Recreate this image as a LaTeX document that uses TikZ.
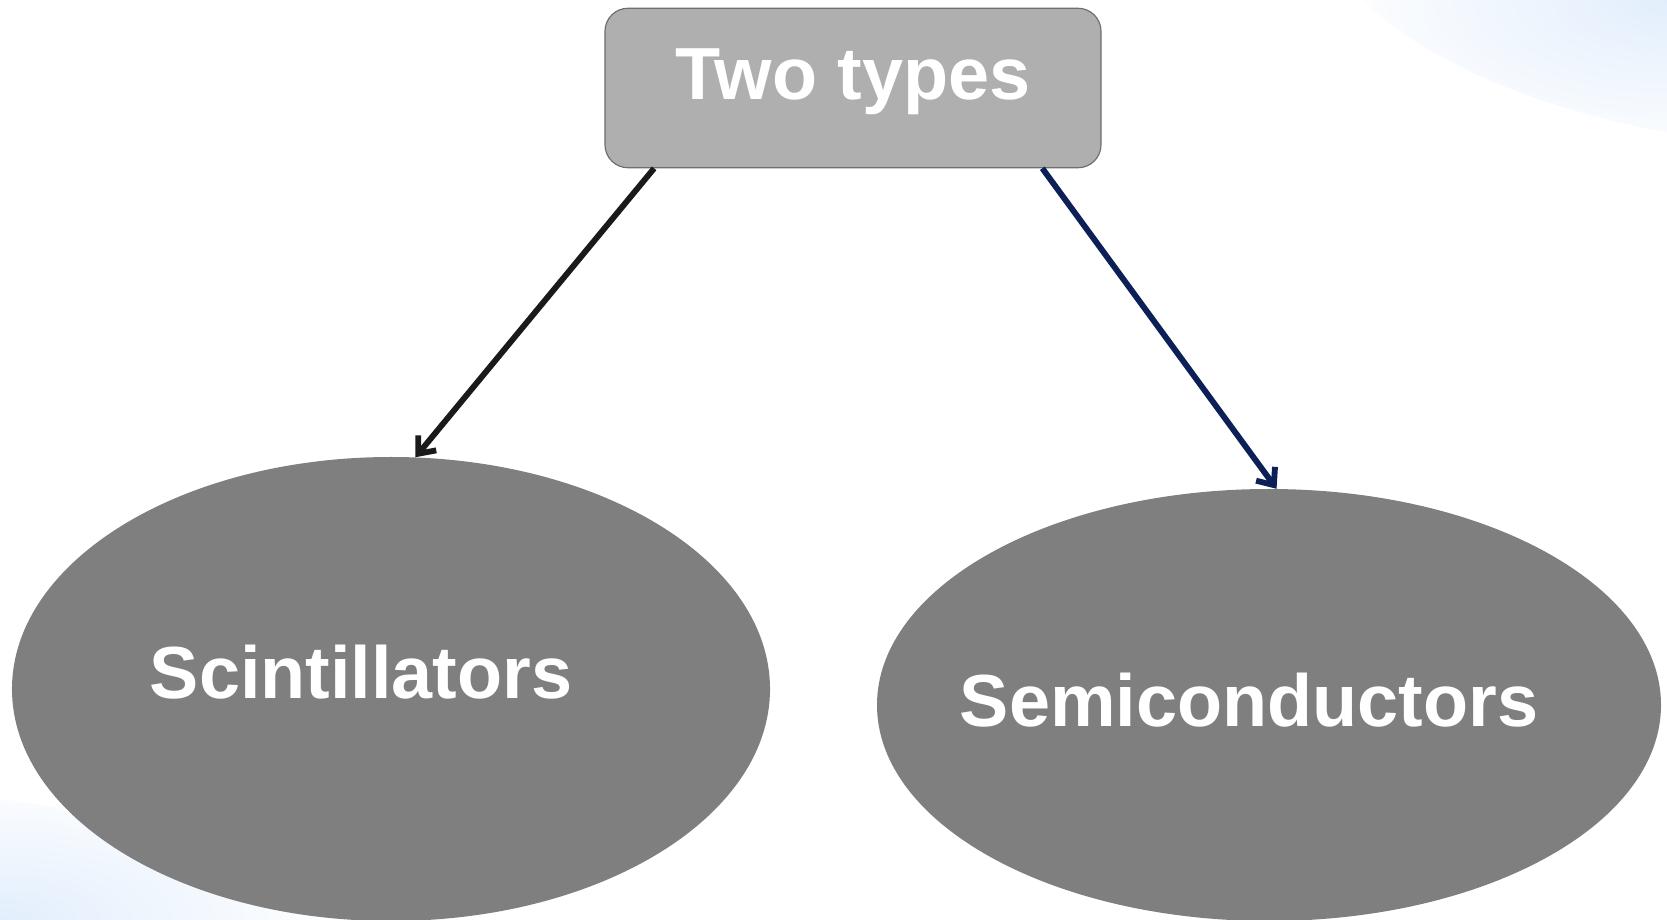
\documentclass[tikz,border=0pt]{standalone}
\usepackage{fontspec}
\setmainfont{Liberation Sans}
\usetikzlibrary{arrows.meta,shapes.geometric}

\definecolor{boxgray}{HTML}{AFAFAF}
\definecolor{boxedge}{HTML}{6E6E6E}
\definecolor{ellgray}{HTML}{7F7F7F}
\definecolor{arrowblack}{HTML}{1A1A1A}
\definecolor{arrownavy}{HTML}{0C1F56}
\definecolor{paleblue}{HTML}{E2EEFC}

\tikzset{
    bigtext/.style={text=white, font=\fontsize{63}{70}\selectfont\bfseries, inner sep=0pt, anchor=base},
    blob/.style={ellipse, fill=ellgray, inner sep=0pt},
    typearrow/.style={line width=5pt, -{Straight Barb[length=12pt, width=20pt]}}
}

\begin{document}
\begin{tikzpicture}[x=0.03cm, y=-0.03cm]
            \useasboundingbox (0,0) rectangle (1667,920);

            % faint background corners
            \begin{scope}
                \clip (0,0) rectangle (1667,920);
                \shade[inner color=paleblue, outer color=white, rotate around={-12:(1667,0)}] (1667,0) ellipse (340 and 130);
                \shade[inner color=paleblue, outer color=white, rotate around={-8:(0,920)}] (0,920) ellipse (340 and 120);
            \end{scope}

            % Draw the box
            \node[draw=boxedge, line width=1pt, fill=boxgray, rounded corners=0.69cm,
                  minimum width=14.88cm, minimum height=4.785cm] (types) at (853,88) {};
            \node[bigtext] (typestext) at (853,99) {Two types};

            % Draw the two ellipses
            \node[blob, minimum width=22.74cm, minimum height=13.92cm] (sci) at (391,689) {};
            \node[bigtext] (scitext) at (361,698) {Scintillators};

            \node[blob, minimum width=23.52cm, minimum height=12.96cm] (semi) at (1269,705) {};
            \node[bigtext] (semitext) at (1249,726) {Semiconductors};

            % Draw the arrows
            \draw[typearrow, draw=arrowblack] (types.202.6) -- (sci.84);
            \draw[typearrow, draw=arrownavy] (types.337.6) -- (semi.88);
\end{tikzpicture}
\end{document}
